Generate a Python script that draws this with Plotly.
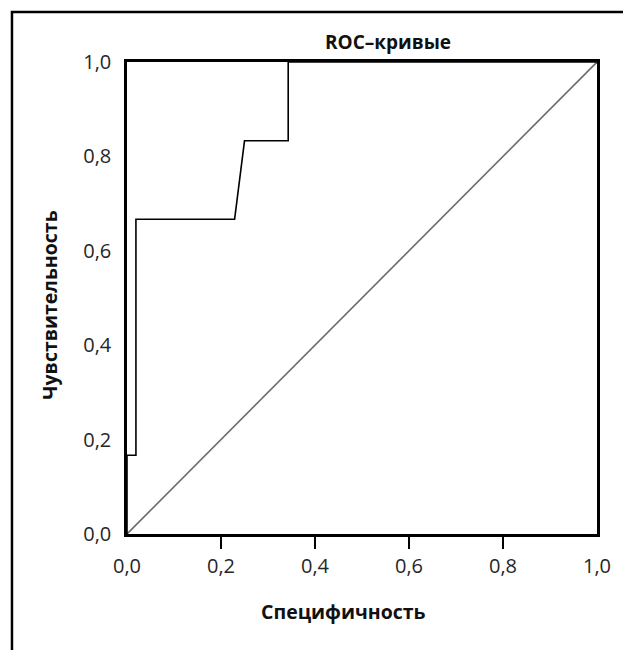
import plotly.graph_objects as go

# ROC curve data (1 - specificity on x axis, sensitivity on y axis)
fpr = [0.0, 0.0, 0.019, 0.019, 0.229, 0.25, 0.343, 0.343, 1.0]
tpr = [0.0, 0.167, 0.167, 0.667, 0.667, 0.833, 0.833, 1.0, 1.0]
ref_x = [0.0, 1.0]
ref_y = [0.0, 1.0]

tick_vals = [0.0, 0.2, 0.4, 0.6, 0.8, 1.0]
tick_text = ["0,0", "0,2", "0,4", "0,6", "0,8", "1,0"]
minor_vals = [0.2, 0.4, 0.6, 0.8]

title_text = "ROC–кривые"
x_title = "Специфичность"
y_title = "Чувствительность"

FONT = "Open Sans"

fig = go.Figure()
fig.add_trace(go.Scatter(x=ref_x, y=ref_y, mode="lines",
                         line=dict(color="#6b6b6b", width=1.6),
                         hoverinfo="skip", showlegend=False))
fig.add_trace(go.Scatter(x=fpr, y=tpr, mode="lines",
                         line=dict(color="#000000", width=1.6),
                         showlegend=False))

W, H = 623, 650
L, R, T, B = 127, 22, 62, 116
pw = W - L - R
ph = H - T - B

def px_x(p):
    return (p - L) / pw

def px_y(p):
    return (H - B - p) / ph

fig.update_layout(
    width=W, height=H,
    margin=dict(l=L, r=R, t=T, b=B, pad=0),
    paper_bgcolor="white", plot_bgcolor="white",
    font=dict(family=FONT, color="#262626", size=20),
    xaxis=dict(range=[0, 1], tickvals=tick_vals, ticktext=tick_text,
               showgrid=False, zeroline=False,
               showline=True, mirror=True, linecolor="black", linewidth=2.5,
               ticks="outside", ticklen=12, tickcolor="rgba(0,0,0,0)",
               minor=dict(tickvals=minor_vals, ticks="outside", ticklen=12,
                          tickwidth=1.5, tickcolor="black", showgrid=False),
               tickfont=dict(size=20, family=FONT, color="#262626")),
    yaxis=dict(range=[0, 1], tickvals=tick_vals, ticktext=tick_text,
               showgrid=False, zeroline=False,
               showline=True, mirror=True, linecolor="black", linewidth=2.5,
               ticks="outside", ticklen=9, tickcolor="rgba(0,0,0,0)",
               tickfont=dict(size=20, family=FONT, color="#262626")),
    shapes=[dict(type="rect", xref="paper", yref="paper",
                 x0=px_x(11), x1=px_x(640), y0=px_y(680), y1=px_y(12),
                 line=dict(color="black", width=2.5), fillcolor="rgba(0,0,0,0)",
                 layer="below")],
    annotations=[
        dict(text="<b>" + title_text + "</b>", xref="paper", yref="paper",
             x=px_x(390), y=px_y(42), showarrow=False,
             xanchor="center", yanchor="middle",
             font=dict(size=19, family=FONT, color="#111111")),
        dict(text="<b>" + x_title + "</b>", xref="paper", yref="paper",
             x=px_x(345), y=px_y(611), showarrow=False,
             xanchor="center", yanchor="middle",
             font=dict(size=19.5, family=FONT, color="#111111")),
        dict(text="<b>" + y_title + "</b>", xref="paper", yref="paper",
             x=px_x(48), y=px_y(305), showarrow=False, textangle=-90,
             xanchor="center", yanchor="middle",
             font=dict(size=19.5, family=FONT, color="#111111")),
    ],
)

fig.write_html("out.html", config={"displayModeBar": False},
               post_script="document.body.style.margin='0';document.body.style.overflow='hidden';")
